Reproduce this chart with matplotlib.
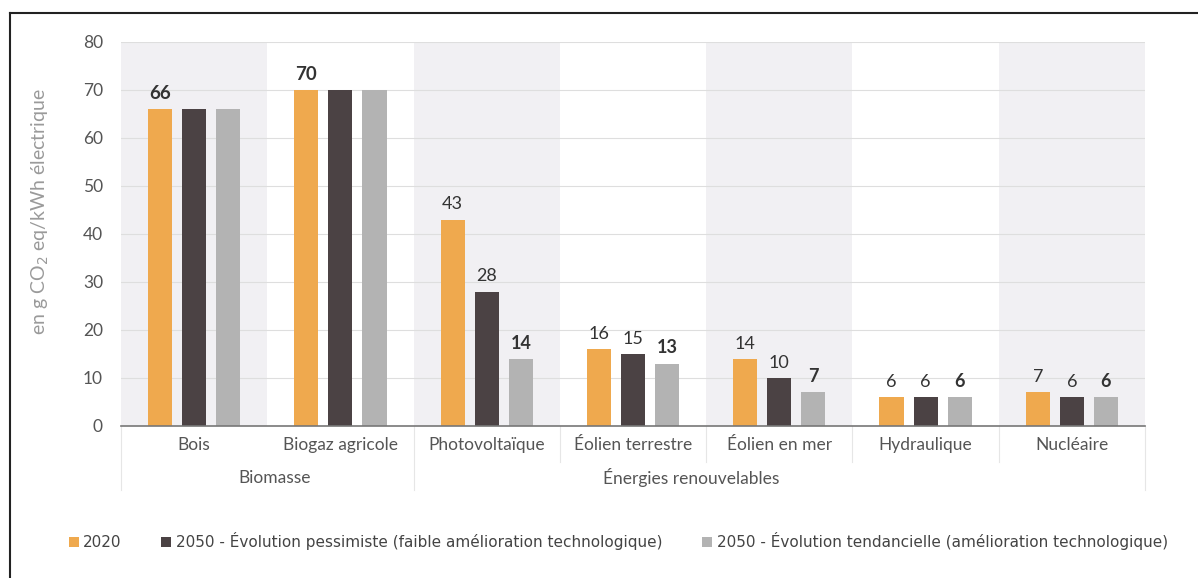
import matplotlib.pyplot as plt
import numpy as np

# Émissions du cycle de vie par filière (g CO2 eq / kWh électrique)
categories = ["Bois", "Biogaz agricole", "Photovoltaïque", "Éolien terrestre",
              "Éolien en mer", "Hydraulique", "Nucléaire"]
v_2020 = [66, 70, 43, 16, 14, 6, 7]
v_pessimiste = [66, 70, 28, 15, 10, 6, 6]
v_tendanciel = [66, 70, 14, 13, 7, 6, 6]
series_names = ["2020",
                "2050 - Évolution pessimiste (faible amélioration technologique)",
                "2050 - Évolution tendancielle (amélioration technologique)"]
groups = ["Biomasse", "Énergies renouvelables"]

colors = ["#EFA94E", "#4B4244", "#B3B3B3"]
TXT = "#555555"

plt.rcParams["font.family"] = ["Lato", "DejaVu Sans"]

fig = plt.figure(figsize=(11.98, 5.78), dpi=100)
ax = fig.add_axes([121 / 1198, 1 - 426 / 578, 1024 / 1198, 384 / 578])

x = np.arange(len(categories))
width = 0.165
offset = 0.233

# bandes de fond alternées
for i in range(len(categories)):
    if i % 2 == 0:
        ax.axvspan(i - 0.5, i + 0.5, color="#F1F0F3", zorder=0, lw=0)

for y in range(10, 81, 10):
    ax.axhline(y, color="#DEDEDE", lw=0.8, zorder=1)

all_series = [v_2020, v_pessimiste, v_tendanciel]
for k, (vals, col, name) in enumerate(zip(all_series, colors, series_names)):
    ax.bar(x + (k - 1) * offset, vals, width, color=col, zorder=2, label=name)

# étiquettes de valeurs
for i in range(len(categories)):
    if i < 2:
        ax.text(x[i] - offset, v_2020[i] + 1.5, str(v_2020[i]), ha="center",
                va="bottom", fontsize=13.5, fontweight="bold", color="#333333")
        continue
    for k, vals in enumerate(all_series):
        ax.text(x[i] + (k - 1) * offset, vals[i] + 1.5, str(vals[i]), ha="center",
                va="bottom", fontsize=13, color="#333333",
                fontweight="bold" if k == 2 else "normal")

ax.set_xlim(-0.5, len(categories) - 0.5)
ax.set_ylim(0, 80)
ax.set_yticks(range(0, 81, 10))
ax.tick_params(axis="y", length=0, pad=13, labelsize=12.5, labelcolor=TXT)
ax.set_xticks(x)
ax.set_xticklabels(categories)
ax.tick_params(axis="x", length=0, pad=8, labelsize=12.5, labelcolor=TXT)
for s in ["top", "right", "left"]:
    ax.spines[s].set_visible(False)
ax.spines["bottom"].set_color("#777777")
ax.spines["bottom"].set_linewidth(1.2)
ax.spines["bottom"].set_zorder(3)

# séparateurs sous l'axe
for xs in [-0.5, 1.5, 6.5]:
    ax.plot([xs, xs], [0, -0.167], transform=ax.get_xaxis_transform(),
            color="#E6E6E6", lw=0.8, clip_on=False)
for xs in [2.5, 3.5, 4.5, 5.5]:
    ax.plot([xs, xs], [0, -0.094], transform=ax.get_xaxis_transform(),
            color="#E6E6E6", lw=0.8, clip_on=False)

ax.text(0.55, -0.135, groups[0], transform=ax.get_xaxis_transform(),
        ha="center", va="center", fontsize=12.5, color=TXT)
ax.text(3.4, -0.135, groups[1], transform=ax.get_xaxis_transform(),
        ha="center", va="center", fontsize=12.5, color=TXT)

fig.text(40 / 1198, 1 - 212 / 578, "en g CO$_2$ eq/kWh électrique", rotation=90,
         ha="center", va="center", fontsize=14, color="#9A9A9A")

leg = fig.legend(loc="center left", bbox_to_anchor=(55 / 1198, 1 - 541 / 578),
                 ncol=3, frameon=False, handlelength=0.65, handleheight=0.65,
                 handletextpad=0.3, columnspacing=2.6,
                 prop={"family": "DejaVu Sans", "size": 11})
for t in leg.get_texts():
    t.set_color("#444444")

# cadre
fig.add_artist(plt.Line2D([10 / 1198, 10 / 1198], [0, 1 - 13 / 578], color="#222222", lw=1.5))
fig.add_artist(plt.Line2D([10 / 1198, 1], [1 - 13 / 578, 1 - 13 / 578], color="#222222", lw=1.5))

fig.savefig("out.png", dpi=100)
